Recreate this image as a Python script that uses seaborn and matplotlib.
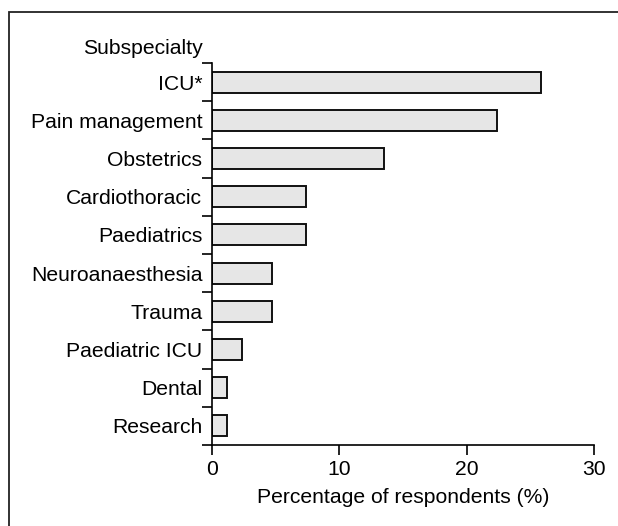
import numpy as np
import pandas as pd
import matplotlib
matplotlib.use("Agg")
import matplotlib.pyplot as plt
from matplotlib.patches import Rectangle
import seaborn as sns

# Data
subspecialties = ["ICU*", "Pain management", "Obstetrics", "Cardiothoracic",
                  "Paediatrics", "Neuroanaesthesia", "Trauma", "Paediatric ICU",
                  "Dental", "Research"]
percentages = [25.8, 22.4, 13.5, 7.4, 7.4, 4.7, 4.7, 2.35, 1.15, 1.15]
x_ticks = [0, 10, 20, 30]

df = pd.DataFrame({"Subspecialty": subspecialties, "Percentage": percentages})

sns.set_theme(style="ticks")
plt.rcParams["font.family"] = ["Liberation Sans", "DejaVu Sans"]

fs = 15.2

fig = plt.figure(figsize=(6.18, 5.26), dpi=100)
ax = fig.add_axes([212 / 618, 1 - 445 / 526, (594 - 212) / 618, (445 - 63) / 526])

sns.barplot(data=df, x="Percentage", y="Subspecialty", orient="h",
            color="#e6e6e6", edgecolor="#111111", linewidth=1.4,
            width=0.55, saturation=1, ax=ax)

ax.set_xlim(0, 30)
ax.set_ylim(len(subspecialties) - 0.5, -0.5)
ax.set_xticks(x_ticks)
ax.set_xticklabels([str(t) for t in x_ticks], fontsize=fs, color="black")
ax.tick_params(axis="x", length=7.5, width=1.2, color="black", pad=3)

# category labels without ticks, separator ticks between categories
ax.set_yticks(np.arange(len(subspecialties)))
ax.set_yticklabels(subspecialties, fontsize=fs, color="black")
ax.tick_params(axis="y", which="major", length=0, pad=7)
ax.set_yticks(np.arange(len(subspecialties) + 1) - 0.5, minor=True)
ax.tick_params(axis="y", which="minor", length=7.5, width=1.2, color="black")

ax.set_ylabel("")
ax.set_xlabel("Percentage of respondents (%)", fontsize=fs, color="black", labelpad=7)

for side in ["top", "right"]:
    ax.spines[side].set_visible(False)
for side in ["left", "bottom"]:
    ax.spines[side].set_color("black")
    ax.spines[side].set_linewidth(1.2)

fig.text(203 / 618, 1 - 48 / 526, "Subspecialty", ha="right", va="center",
         fontsize=fs, color="black")

# outer frame (cut off at right and bottom edges)
frame = Rectangle((8.5 / 618, -0.1), 1.2, 1 - 11.5 / 526 + 0.1,
                  transform=fig.transFigure, fill=False,
                  edgecolor="#222222", linewidth=1.3)
fig.patches.append(frame)

fig.savefig("out.png", dpi=100)
